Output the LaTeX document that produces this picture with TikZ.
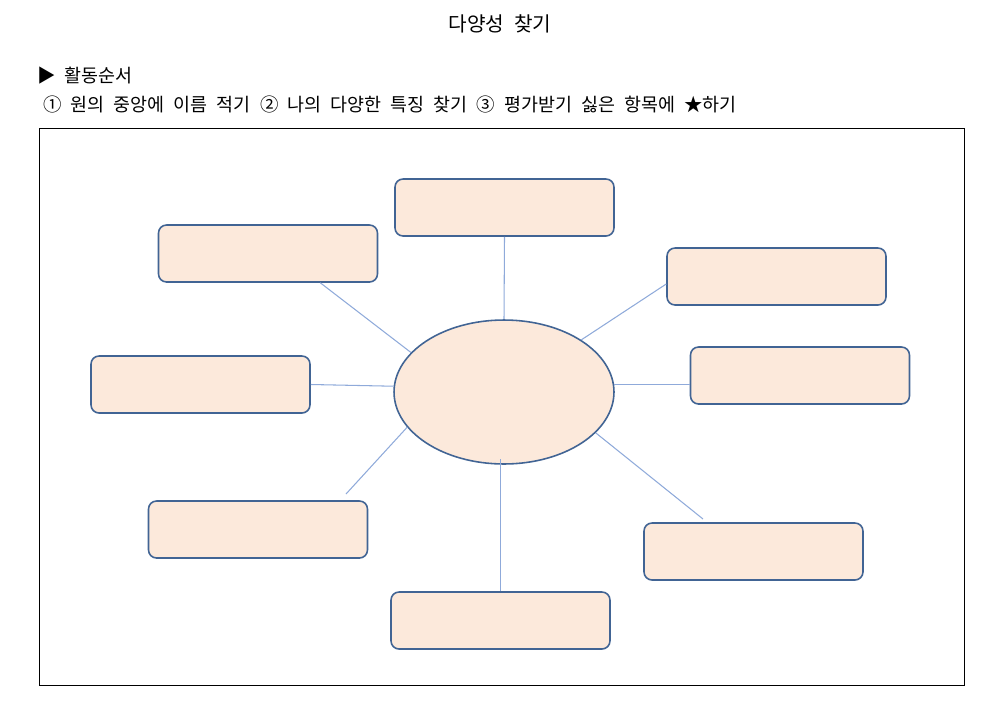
\documentclass[tikz,border=0pt]{standalone}
\usepackage{fontspec}
\setmainfont[WordSpace=2.2]{Noto Sans CJK KR}
\usetikzlibrary{calc,shapes.geometric}
\definecolor{diversityPeach}{RGB}{252, 233, 219}
\definecolor{diversityBorder}{RGB}{65, 100, 148}
\definecolor{diversitySpoke}{RGB}{143, 170, 218}

\begin{document}
\begin{tikzpicture}[x=0.02cm,y=-0.02cm,
  traitbox/.style={draw=diversityBorder,fill=diversityPeach,line width=0.9pt,rounded corners=0.16cm,minimum width=4.38cm,minimum height=1.14cm},
  namecircle/.style={ellipse,draw=diversityBorder,fill=diversityPeach,line width=0.9pt,minimum width=4.4cm,minimum height=2.88cm,inner sep=0pt},
  spoke/.style={diversitySpoke,line width=0.6pt},
  guidetext/.style={anchor=base west,inner sep=0pt,font=\fontsize{10.5}{12}\selectfont}
]
  \useasboundingbox (0,0) rectangle (993,717);
  % heading and steps
  \node[font=\fontsize{11.5}{13}\selectfont] (title) at (500,24) {다양성 찾기};
  \node[guidetext] (steps) at (37,82) {▶ 활동순서};
  \node[guidetext] (order) at (43,111) {① 원의 중앙에 이름 적기 ② 나의 다양한 특징 찾기 ③ 평가받기 싫은 항목에 ★하기};
  % frame
  \draw[black,line width=0.45pt] (39,128) rectangle (964,685);
  % center and trait boxes
  \node[namecircle] (me) at (504,392) {};
  \node[traitbox] (top) at (504.5,207.5) {};
  \node[traitbox] (upleft) at (268,253.5) {};
  \node[traitbox] (upright) at (776.5,276.5) {};
  \node[traitbox] (right) at (800,375.5) {};
  \node[traitbox] (left) at (200.5,384.5) {};
  \node[traitbox] (lowleft) at (258,529.5) {};
  \node[traitbox] (lowright) at (753.5,551.5) {};
  \node[traitbox] (bottom) at (500.5,620.5) {};
  \coordinate (lowleftend) at (346,494);
  \coordinate (lowrightend) at (703,519);
  % spokes
  \draw[spoke] (top.south) -- (me.north);
  \draw[spoke] ($(upleft.south east)+(-58,0)$) -- (me.157);
  \draw[spoke] (left.east) -- (me.177);
  \draw[spoke] (lowleftend) -- (me.200);
  \draw[spoke] (bottom.north) -- ($(bottom.north)+(0,-132)$);
  \draw[spoke] ($(upright.west)+(0,7.5)$) -- (me.34);
  \draw[spoke] (me.4) -- (me.4 -| right.west);
  \draw[spoke] (lowrightend) -- (me.336);
\end{tikzpicture}
\end{document}
